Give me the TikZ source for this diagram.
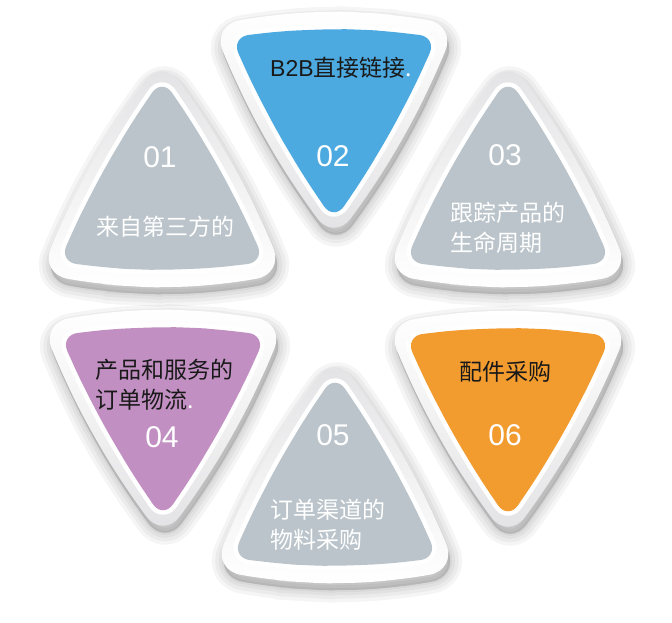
\documentclass[tikz,border=0pt]{standalone}
\usepackage{fontspec}
\setmainfont{Liberation Sans}
\newfontfamily\cjk{Noto Sans CJK SC}
\definecolor{pgray}{RGB}{186,196,202}
\definecolor{pblue}{RGB}{77,170,224}
\definecolor{ppurple}{RGB}{193,143,193}
\definecolor{porange}{RGB}{242,155,47}
\definecolor{txtdark}{RGB}{25,25,25}
\definecolor{framegray}{RGB}{226,226,228}
\tikzset{
  innerp/.style={rounded corners=18pt},
  outerp/.style={rounded corners=28pt},
  upframe/.style={top color=framegray, bottom color=white},
  downframe/.style={top color=white, bottom color=framegray},
  numtxt/.style={text=white, font=\fontsize{30}{30}\selectfont, inner sep=0pt},
  cjktxt/.style={font=\cjk\fontsize{23}{30}\selectfont, inner sep=0pt, align=left},
}
\newcommand\innerpath{(-25.75,67.5) -- (-51.5,66) -- (-103,60) -- (-81.2,11.8) -- (-56.7,-34.9) -- (-29.7,-80.2) -- (0,-124) -- (29.7,-80.2) -- (56.7,-34.9) -- (81.2,11.8) -- (103,60) -- (51.5,66) -- (0,68) -- cycle}
\newcommand\outerpath{(-30.5,84.2) -- (-61,82.5) -- (-122,72) -- (-98.0,14.3) -- (-69.7,-40.9) -- (-37.0,-93.7) -- (0,-144) -- (37.0,-93.7) -- (69.7,-40.9) -- (98.0,14.3) -- (122,72) -- (61,82.5) -- (0,86) -- cycle}
\newcommand\petalshadow[2]{%
  \begin{scope}[shift={#1}, shift={(2,7)}, rotate=#2]
    \foreach \w in {24,17,10,4} {
      \filldraw[black, opacity=0.04, line width=\w pt, line join=round, outerp] \outerpath;
    }
  \end{scope}}
\newcommand\petal[4]{%
  \begin{scope}[shift={#1}, rotate=#2]
    \shade[outerp, #4] \outerpath;
    \draw[innerp, white, line width=9pt, line join=round] \innerpath;
    \fill[innerp, #3] \innerpath;
  \end{scope}}
\begin{document}
\begin{tikzpicture}[x=1pt,y=-1pt]
\useasboundingbox (0,0) rectangle (672,623);
\fill[white] (0,0) rectangle (672,623);
% shadows
\petalshadow{(162,202)}{0}
\petalshadow{(334,97)}{180}
\petalshadow{(508,202)}{0}
\petalshadow{(163,395)}{180}
\petalshadow{(335,498)}{0}
\petalshadow{(508,396)}{180}
% petals
\petal{(162,202)}{0}{pgray}{upframe}
\petal{(334,97)}{180}{pblue}{downframe}
\petal{(508,202)}{0}{pgray}{upframe}
\petal{(163,395)}{180}{ppurple}{downframe}
\petal{(335,498)}{0}{pgray}{upframe}
\petal{(508,396)}{180}{porange}{downframe}
% texts
\node[numtxt] (n01) at (160,157) {01};
\node[cjktxt, text=white] (t01) at (165,227) {来自第三方的};
\node[cjktxt, text=txtdark, anchor=west] (t02) at (270,68) {{\rmfamily\fontsize{23}{30}\selectfont B2B}直接链接{\color{white}.}};
\node[numtxt] (n02) at (333,156) {02};
\node[numtxt] (n03) at (505,155) {03};
\node[cjktxt, text=white, anchor=west] (t03) at (450,228) {跟踪产品的\\生命周期};
\node[cjktxt, text=txtdark, anchor=west] (t04) at (95,385) {产品和服务的\\订单物流{\color{white}.}};
\node[numtxt] (n04) at (162,437) {04};
\node[numtxt] (n05) at (333,435) {05};
\node[cjktxt, text=white, anchor=west] (t05) at (270,525) {订单渠道的\\物料采购};
\node[cjktxt, text=txtdark] (t06) at (505,372) {配件采购};
\node[numtxt] (n06) at (505,435) {06};
\end{tikzpicture}
\end{document}
